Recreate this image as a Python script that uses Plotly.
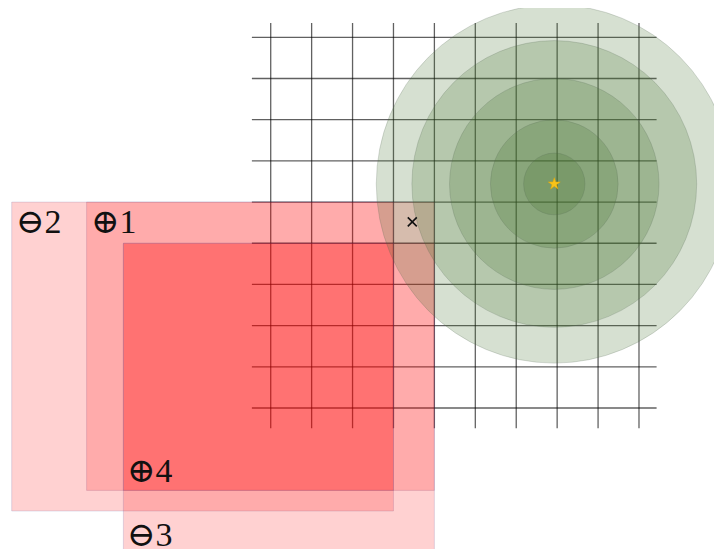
import plotly.graph_objects as go

# grid (in cell units)
grid_x = [1, 2, 3, 4, 5, 6, 7, 8, 9, 10]
grid_y = [1, 2, 3, 4, 5, 6, 7, 8, 9, 10]
grid_x_span = [0.54, 10.43]
grid_y_span = [0.65, 10.49]

# rectangles: label, x0, x1, y0 (top), y1 (bottom), label corner
rect_labels = ["⊕1", "⊖2", "⊖3", "⊕4"]
rect_x0 = [-3.5, -5.33, -2.6, -2.6]
rect_x1 = [5.0, 4.0, 5.0, 4.0]
rect_y0 = [5.0, 5.0, 6.0, 6.0]
rect_y1 = [12.0, 12.5, 13.55, 12.0]
rect_label_at = ["top", "top", "bottom", "bottom"]

# concentric circles
circle_cx = 7.93
circle_cy = 4.56
circle_r = [4.35, 3.48, 2.56, 1.56, 0.75]

# point markers
cross_x = [4.46]
cross_y = [5.48]
star_x = [7.93]
star_y = [4.56]

fig = go.Figure()

for gx in grid_x:
    fig.add_shape(type="line", x0=gx, x1=gx, y0=grid_y_span[0], y1=grid_y_span[1],
                  line=dict(color="rgba(0,0,0,0.62)", width=1.3), layer="below")
for gy in grid_y:
    fig.add_shape(type="line", x0=grid_x_span[0], x1=grid_x_span[1], y0=gy, y1=gy,
                  line=dict(color="rgba(0,0,0,0.62)", width=1.3), layer="below")

for i in range(len(rect_labels)):
    fig.add_shape(type="rect", x0=rect_x0[i], x1=rect_x1[i], y0=rect_y0[i], y1=rect_y1[i],
                  fillcolor="rgba(255,0,0,0.18)",
                  line=dict(color="rgba(90,80,150,0.18)", width=1), layer="below")
    if rect_label_at[i] == "top":
        ly = rect_y0[i] + 0.46
    else:
        ly = rect_y1[i] - 0.5
    fig.add_annotation(x=rect_x0[i], y=ly, text=rect_labels[i], showarrow=False,
                       xanchor="left", yanchor="middle", xshift=2, height=30,
                       font=dict(family="Liberation Serif, DejaVu Serif, serif", size=34, color="#111"))

for r in circle_r:
    fig.add_shape(type="circle", x0=circle_cx - r, x1=circle_cx + r,
                  y0=circle_cy - r, y1=circle_cy + r,
                  fillcolor="rgba(70,115,45,0.22)",
                  line=dict(color="rgba(80,100,80,0.22)", width=1), layer="below")

fig.add_trace(go.Scatter(x=cross_x, y=cross_y, mode="markers",
                         marker=dict(symbol="x-thin", size=9, line=dict(color="#111", width=1.6)),
                         hoverinfo="skip"))
fig.add_trace(go.Scatter(x=star_x, y=star_y, mode="markers",
                         marker=dict(symbol="star", size=9, color="#F7C31A",
                                     line=dict(color="#E8A800", width=0.5)),
                         hoverinfo="skip"))

# page body has an 8px margin, so the ranges are shifted to compensate
fig.update_xaxes(range=[-5.42, 12.224], visible=False, showgrid=False, zeroline=False)
fig.update_yaxes(range=[13.617, 0.2887], visible=False, showgrid=False, zeroline=False)
fig.update_layout(width=722, height=549, margin=dict(l=0, r=0, t=0, b=0),
                  paper_bgcolor="white", plot_bgcolor="white", showlegend=False)

fig.write_html("out.html")
